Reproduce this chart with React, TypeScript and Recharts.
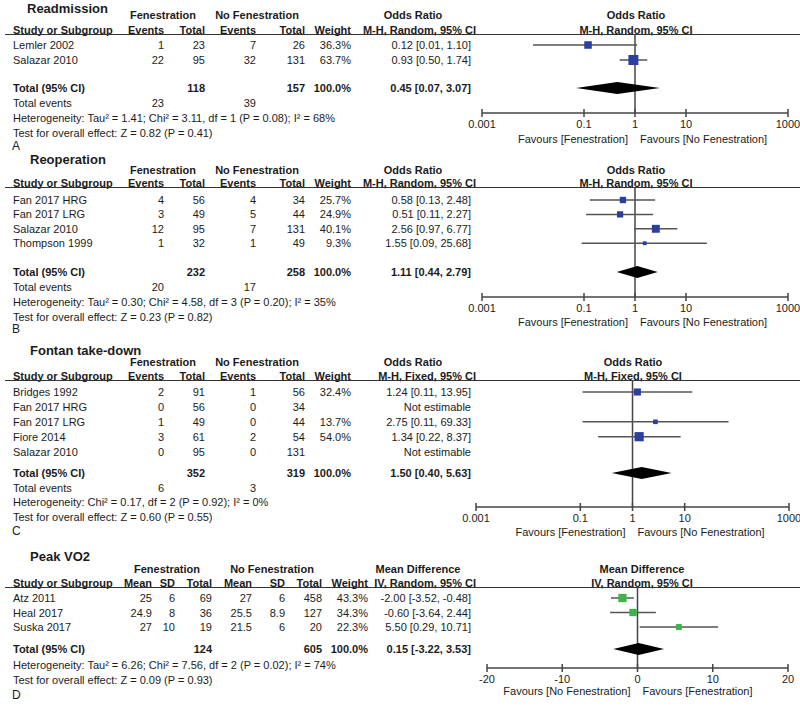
import React from 'react';
import { ComposedChart, Scatter, XAxis, YAxis, ErrorBar, ReferenceLine } from 'recharts';

// ---- A: Readmission ----
const readmStudies = ['Lemler 2002', 'Salazar 2010'];
const readmFenEvents = [1, 22];
const readmFenTotal = [23, 95];
const readmNoEvents = [7, 32];
const readmNoTotal = [26, 131];
const readmWeight = [36.3, 63.7];
const readmOR = [0.12, 0.93];
const readmLow = [0.01, 0.5];
const readmHigh = [1.1, 1.74];
const readmPooled = [0.45, 0.07, 3.07];
const readmHet = 'Heterogeneity: Tau\u00b2 = 1.41; Chi\u00b2 = 3.11, df = 1 (P = 0.08); I\u00b2 = 68%';
const readmTest = 'Test for overall effect: Z = 0.82 (P = 0.41)';

// ---- B: Reoperation ----
const reopStudies = ['Fan 2017 HRG', 'Fan 2017 LRG', 'Salazar 2010', 'Thompson 1999'];
const reopFenEvents = [4, 3, 12, 1];
const reopFenTotal = [56, 49, 95, 32];
const reopNoEvents = [4, 5, 7, 1];
const reopNoTotal = [34, 44, 131, 49];
const reopWeight = [25.7, 24.9, 40.1, 9.3];
const reopOR = [0.58, 0.51, 2.56, 1.55];
const reopLow = [0.13, 0.11, 0.97, 0.09];
const reopHigh = [2.48, 2.27, 6.77, 25.68];
const reopPooled = [1.11, 0.44, 2.79];
const reopHet = 'Heterogeneity: Tau\u00b2 = 0.30; Chi\u00b2 = 4.58, df = 3 (P = 0.20); I\u00b2 = 35%';
const reopTest = 'Test for overall effect: Z = 0.23 (P = 0.82)';

// ---- C: Fontan take-down ----
const takeStudies = ['Bridges 1992', 'Fan 2017 HRG', 'Fan 2017 LRG', 'Fiore 2014', 'Salazar 2010'];
const takeFenEvents = [2, 0, 1, 3, 0];
const takeFenTotal = [91, 56, 49, 61, 95];
const takeNoEvents = [1, 0, 0, 2, 0];
const takeNoTotal = [56, 34, 44, 54, 131];
const takeWeight = [32.4, null, 13.7, 54.0, null];
const takeOR = [1.24, null, 2.75, 1.34, null];
const takeLow = [0.11, null, 0.11, 0.22, null];
const takeHigh = [13.95, null, 69.33, 8.37, null];
const takePooled = [1.5, 0.4, 5.63];
const takeHet = 'Heterogeneity: Chi\u00b2 = 0.17, df = 2 (P = 0.92); I\u00b2 = 0%';
const takeTest = 'Test for overall effect: Z = 0.60 (P = 0.55)';

// ---- D: Peak VO2 ----
const vo2Studies = ['Atz 2011', 'Heal 2017', 'Suska 2017'];
const vo2FenMean = [25, 24.9, 27];
const vo2FenSD = [6, 8, 10];
const vo2FenTotal = [69, 36, 19];
const vo2NoMean = [27, 25.5, 21.5];
const vo2NoSD = [6, 8.9, 6];
const vo2NoTotal = [458, 127, 20];
const vo2Weight = [43.3, 34.3, 22.3];
const vo2MD = [-2.0, -0.6, 5.5];
const vo2Low = [-3.52, -3.64, 0.29];
const vo2High = [-0.48, 2.44, 10.71];
const vo2Pooled = [0.15, -3.22, 3.53];
const vo2Het = 'Heterogeneity: Tau\u00b2 = 6.26; Chi\u00b2 = 7.56, df = 2 (P = 0.02); I\u00b2 = 74%';
const vo2Test = 'Test for overall effect: Z = 0.09 (P = 0.93)';

const orTicks = [0.001, 0.1, 1, 10, 1000];
const mdTicks = [-20, -10, 0, 10, 20];

const BLUE = '#2b3f9e';
const GREEN = '#3cb44a';
const INK = '#1b1b1b';

const sum = (a: number[]) => a.reduce((s, v) => s + v, 0);
const f2 = (v: number) => v.toFixed(2);
const ci = (e: number | null, l: number | null, h: number | null) =>
  e == null ? 'Not estimable' : `${f2(e)} [${f2(l as number)}, ${f2(h as number)}]`;
const pct = (w: number | null) => (w == null ? '' : `${w.toFixed(1)}%`);

function Txt({ x, y, a = 'l', b = false, s = 11, children }: any) {
  const tx = a === 'l' ? '0' : a === 'r' ? '-100%' : '-50%';
  return (
    <div
      style={{
        position: 'absolute', left: x, top: y, transform: `translate(${tx},-50%)`,
        whiteSpace: 'nowrap', fontSize: s, fontWeight: b ? 700 : 400, lineHeight: 1, color: INK,
      }}
    >
      {children}
    </div>
  );
}

const AxisTick = (p: any) => (
  <g>
    <line x1={p.x} x2={p.x} y1={p.y - 4} y2={p.y + 4} stroke="#444" strokeWidth={1.5} />
    <text x={p.x} y={p.y + 15} textAnchor="middle" fontSize={11} fill={INK}>
      {p.payload.value}
    </text>
  </g>
);

const DiamondFill = (p: any) => (
  <polygon points={(p.points || []).map((q: any) => `${q.x},${q.y}`).join(' ')} fill="#000" />
);

const squareOf = (color: string) => (p: any) => {
  const s = 1.25 * Math.sqrt(p.payload.w);
  return <rect x={p.cx - s / 2} y={p.cy - s / 2} width={s} height={s} fill={color} />;
};

function Panel({ p }: { p: any }) {
  const L = p.L;
  const rowY = (i: number) => L.row0 + i * L.R;
  const totalIdx = (L.total - L.row0) / L.R;
  const pad = 24;
  const plotW = L.x1 - L.x0;
  const plotH = L.axis - L.line;
  const pts = p.studies
    .map((_: string, i: number) =>
      p.est[i] == null
        ? null
        : { x: p.est[i], y: i, w: p.weight[i], err: [p.est[i] - p.low[i], p.high[i] - p.est[i]] })
    .filter(Boolean);
  const [pe, pl, ph] = p.pooled;
  const dh = 6 / L.R;
  const diamond = [
    { x: pl, y: totalIdx },
    { x: pe, y: totalIdx - dh },
    { x: ph, y: totalIdx },
    { x: pe, y: totalIdx + dh },
  ];
  const xMid = (L.x0 + L.x1) / 2;
  return (
    <>
      <Txt x={L.tx} y={L.title} b s={13}>{p.title}</Txt>
      {p.groups.map((g: any) => (
        <Txt key={g.t} x={g.cx} y={L.h1} a="c" b>{g.t}</Txt>
      ))}
      <Txt x={L.rx} y={L.h1} a="c" b>{p.effect}</Txt>
      <Txt x={13} y={L.h2} b>Study or Subgroup</Txt>
      {p.cols.map((c: any, k: number) => (
        <Txt key={k} x={c.hr ?? c.r} y={L.h2} a="r" b>{c.head}</Txt>
      ))}
      <Txt x={L.rx} y={L.h2} a="c" b>{p.method}</Txt>
      <div style={{ position: 'absolute', left: 5, top: L.line, width: 795, height: 1, background: '#333' }} />
      {p.studies.map((s: string, i: number) => (
        <React.Fragment key={s}>
          <Txt x={13} y={rowY(i)}>{s}</Txt>
          {p.cols.map((c: any, k: number) => (
            <Txt key={k} x={c.r} y={rowY(i)} a="r">{c.cells[i]}</Txt>
          ))}
        </React.Fragment>
      ))}
      <Txt x={13} y={L.total} b>Total (95% CI)</Txt>
      {p.cols.map((c: any, k: number) =>
        c.total ? <Txt key={k} x={c.r} y={L.total} a="r" b>{c.total}</Txt> : null)}
      {L.events != null && (
        <>
          <Txt x={13} y={L.events}>Total events</Txt>
          {p.cols.map((c: any, k: number) =>
            c.events != null ? <Txt key={k} x={c.r} y={L.events} a="r">{c.events}</Txt> : null)}
        </>
      )}
      <Txt x={13} y={L.het}>{p.het}</Txt>
      <Txt x={13} y={L.test}>{p.test}</Txt>
      <Txt x={12} y={L.letter} s={12}>{p.letter}</Txt>
      <Txt x={xMid - 7} y={L.fav} a="r">{p.favLeft}</Txt>
      <Txt x={xMid + 5} y={L.fav}>{p.favRight}</Txt>
      <div style={{ position: 'absolute', left: L.x0 - pad, top: L.line }}>
        <ComposedChart
          width={plotW + 2 * pad}
          height={plotH + 30}
          margin={{ top: 0, right: pad, bottom: 0, left: pad }}
        >
          <XAxis
            type="number"
            dataKey="x"
            scale={p.log ? 'log' : 'linear'}
            domain={p.domain}
            ticks={p.ticks}
            interval={0}
            allowDataOverflow
            height={30}
            tickSize={0}
            tickMargin={0}
            tickLine={false}
            axisLine={{ stroke: '#444', strokeWidth: 1.5 }}
            tick={<AxisTick />}
          />
          <YAxis
            type="number"
            dataKey="y"
            domain={[(L.line - L.row0) / L.R, (L.axis - L.row0) / L.R]}
            reversed
            hide
            allowDataOverflow
          />
          <ReferenceLine x={p.ref} stroke="#444" strokeWidth={1.5} ifOverflow="extendDomain" />
          <Scatter data={pts} shape={squareOf(p.color)} isAnimationActive={false}>
            <ErrorBar dataKey="err" direction="x" width={0} stroke="#555" strokeWidth={1.5} />
          </Scatter>
          <Scatter data={diamond} shape={() => <g />} line={DiamondFill} isAnimationActive={false} />
        </ComposedChart>
      </div>
    </>
  );
}

const DICH_X = [164, 205, 256, 305, 351, 471];
const CONT_X = [152, 175, 212, 252, 285, 322, 368, 471];
const METHOD_HEAD_X = 476;

function dichCols(method: string, fe: number[], ft: number[], ne: number[], nt: number[],
  w: (number | null)[], e: any[], lo: any[], hi: any[], pooled: number[]) {
  return [
    { head: 'Events', r: DICH_X[0], cells: fe.map(String), events: String(sum(fe)) },
    { head: 'Total', r: DICH_X[1], cells: ft.map(String), total: String(sum(ft)) },
    { head: 'Events', r: DICH_X[2], cells: ne.map(String), events: String(sum(ne)) },
    { head: 'Total', r: DICH_X[3], cells: nt.map(String), total: String(sum(nt)) },
    { head: 'Weight', r: DICH_X[4], cells: w.map(pct), total: '100.0%' },
    {
      head: method, r: DICH_X[5], hr: METHOD_HEAD_X,
      cells: e.map((v, i) => ci(v, lo[i], hi[i])), total: ci(pooled[0], pooled[1], pooled[2]),
    },
  ];
}

const orGroups = [{ t: 'Fenestration', cx: 163 }, { t: 'No Fenestration', cx: 257 }, { t: 'Odds Ratio', cx: 413 }];

const panels = [
  {
    title: 'Readmission', letter: 'A', effect: 'Odds Ratio', method: 'M-H, Random, 95% CI',
    groups: orGroups,
    cols: dichCols('M-H, Random, 95% CI', readmFenEvents, readmFenTotal, readmNoEvents, readmNoTotal, readmWeight, readmOR, readmLow, readmHigh, readmPooled),
    studies: readmStudies, est: readmOR, low: readmLow, high: readmHigh, weight: readmWeight, pooled: readmPooled,
    het: readmHet, test: readmTest, log: true, domain: [0.001, 1000], ticks: orTicks, ref: 1,
    favLeft: 'Favours [Fenestration]', favRight: 'Favours [No Fenestration]', color: BLUE,
    L: { tx: 27, title: 8, h1: 15, h2: 30, line: 34, row0: 45, R: 15, total: 88, events: 103, het: 118, test: 133, letter: 146, axis: 113, fav: 139, x0: 482, x1: 788, rx: 636 },
  },
  {
    title: 'Reoperation', letter: 'B', effect: 'Odds Ratio', method: 'M-H, Random, 95% CI',
    groups: orGroups,
    cols: dichCols('M-H, Random, 95% CI', reopFenEvents, reopFenTotal, reopNoEvents, reopNoTotal, reopWeight, reopOR, reopLow, reopHigh, reopPooled),
    studies: reopStudies, est: reopOR, low: reopLow, high: reopHigh, weight: reopWeight, pooled: reopPooled,
    het: reopHet, test: reopTest, log: true, domain: [0.001, 1000], ticks: orTicks, ref: 1,
    favLeft: 'Favours [Fenestration]', favRight: 'Favours [No Fenestration]', color: BLUE,
    L: { tx: 30, title: 159, h1: 170, h2: 183, line: 187, row0: 200, R: 14.4, total: 272, events: 287, het: 302, test: 317, letter: 329, axis: 297, fav: 322, x0: 482, x1: 788, rx: 636 },
  },
  {
    title: 'Fontan take-down', letter: 'C', effect: 'Odds Ratio', method: 'M-H, Fixed, 95% CI',
    groups: orGroups,
    cols: dichCols('M-H, Fixed, 95% CI', takeFenEvents, takeFenTotal, takeNoEvents, takeNoTotal, takeWeight, takeOR, takeLow, takeHigh, takePooled),
    studies: takeStudies, est: takeOR, low: takeLow, high: takeHigh, weight: takeWeight, pooled: takePooled,
    het: takeHet, test: takeTest, log: true, domain: [0.001, 1000], ticks: orTicks, ref: 1,
    favLeft: 'Favours [Fenestration]', favRight: 'Favours [No Fenestration]', color: BLUE,
    L: { tx: 30, title: 350, h1: 362, h2: 376, line: 380, row0: 392, R: 14.9, total: 473, events: 488, het: 502, test: 517, letter: 531, axis: 507, fav: 532, x0: 476, x1: 789, rx: 633 },
  },
  {
    title: 'Peak VO2', letter: 'D', effect: 'Mean Difference', method: 'IV, Random, 95% CI',
    groups: [{ t: 'Fenestration', cx: 167 }, { t: 'No Fenestration', cx: 272 }, { t: 'Mean Difference', cx: 418 }],
    cols: [
      { head: 'Mean', r: CONT_X[0], cells: vo2FenMean.map(String) },
      { head: 'SD', r: CONT_X[1], cells: vo2FenSD.map(String) },
      { head: 'Total', r: CONT_X[2], cells: vo2FenTotal.map(String), total: String(sum(vo2FenTotal)) },
      { head: 'Mean', r: CONT_X[3], cells: vo2NoMean.map(String) },
      { head: 'SD', r: CONT_X[4], cells: vo2NoSD.map(String) },
      { head: 'Total', r: CONT_X[5], cells: vo2NoTotal.map(String), total: String(sum(vo2NoTotal)) },
      { head: 'Weight', r: CONT_X[6], cells: vo2Weight.map(pct), total: '100.0%' },
      {
        head: 'IV, Random, 95% CI', r: CONT_X[7], hr: METHOD_HEAD_X,
        cells: vo2MD.map((v, i) => ci(v, vo2Low[i], vo2High[i])), total: ci(vo2Pooled[0], vo2Pooled[1], vo2Pooled[2]),
      },
    ],
    studies: vo2Studies, est: vo2MD, low: vo2Low, high: vo2High, weight: vo2Weight, pooled: vo2Pooled,
    het: vo2Het, test: vo2Test, log: false, domain: [-20, 20], ticks: mdTicks, ref: 0,
    favLeft: 'Favours [No Fenestration]', favRight: 'Favours [Fenestration]', color: GREEN,
    L: { tx: 30, title: 556, h1: 569, h2: 583, line: 587, row0: 598, R: 14.5, total: 649, events: null, het: 665, test: 680, letter: 695, axis: 668, fav: 691, x0: 487, x1: 788, rx: 642 },
  },
];

export default function App() {
  return (
    <div
      style={{
        position: 'absolute', left: 0, top: 0, width: 800, height: 707, background: '#fff',
        fontFamily: 'Arial, "Liberation Sans", Helvetica, sans-serif', overflow: 'hidden',
      }}
    >
      {panels.map((p) => (
        <Panel key={p.letter} p={p} />
      ))}
    </div>
  );
}
